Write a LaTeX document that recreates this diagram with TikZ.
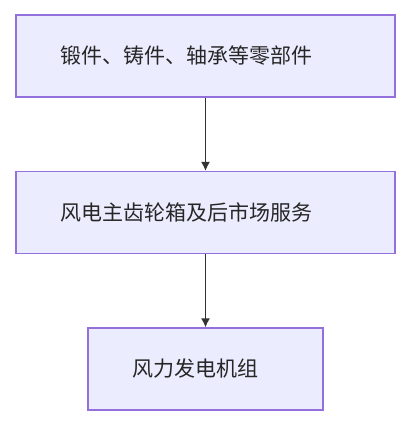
\documentclass[tikz,border=0pt]{standalone}
\usepackage{fontspec}
\setmainfont{Noto Sans CJK SC}
\usepackage{xcolor}
\usetikzlibrary{arrows.meta}
\definecolor{boxfill}{HTML}{ECECFF}
\definecolor{boxline}{HTML}{9370DB}
\definecolor{arrowline}{HTML}{333333}
\tikzset{
	stage/.style={draw=boxline, fill=boxfill, line width=1.2bp, inner xsep=45bp, inner ysep=0pt, align=left, minimum height=82bp, font=\fontsize{21bp}{25bp}\selectfont, text=black!85},
	flow/.style={draw=arrowline, line width=1.4bp, -{Latex[length=9bp,width=9bp]}}
}

\begin{document}
\begin{tikzpicture}[x=1bp, y=1bp]
		\useasboundingbox (0, 0) rectangle (405, 428);
		\node [stage, text width=289bp] (parts) at (205.5, 372) {锻件、铸件、轴承等零部件};
		\node [stage, text width=289bp] (gearbox) at (205.5, 215.5) {风电主齿轮箱及后市场服务};
		\node [stage, text width=145bp] (turbine) at (205.5, 59) {风力发电机组};
		\draw [flow] (parts) -- (gearbox);
		\draw [flow] (gearbox) -- (turbine);
	\end{tikzpicture}
\end{document}
